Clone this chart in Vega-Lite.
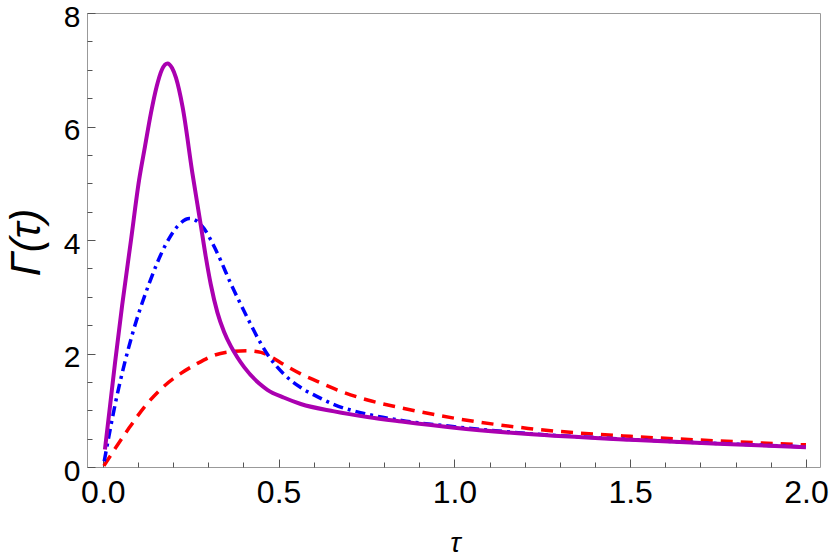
{
  "$schema": "https://vega.github.io/schema/vega-lite/v6.json",
  "width": 733,
  "height": 454,
  "autosize": {"type": "none"},
  "padding": {"left": 87, "top": 13, "right": 10, "bottom": 91},
  "background": "white",
  "config": {
    "view": {"stroke": "#999999", "strokeWidth": 1},
    "axis": {"grid": false, "domain": false, "labelFont": "Liberation Sans", "titleFont": "Liberation Sans", "labelColor": "black", "titleColor": "black", "tickColor": "#555555", "tickWidth": 1}
  },
  "datasets": {
    "curves": [
      {"s": "red", "x": 0.003, "y": 0.02},
      {"s": "red", "x": 0.075, "y": 0.69},
      {"s": "red", "x": 0.12, "y": 1.07},
      {"s": "red", "x": 0.17, "y": 1.40},
      {"s": "red", "x": 0.222, "y": 1.65},
      {"s": "red", "x": 0.265, "y": 1.81},
      {"s": "red", "x": 0.317, "y": 1.97},
      {"s": "red", "x": 0.374, "y": 2.04},
      {"s": "red", "x": 0.41, "y": 2.05},
      {"s": "red", "x": 0.45, "y": 2.02},
      {"s": "red", "x": 0.47, "y": 1.97},
      {"s": "red", "x": 0.516, "y": 1.80},
      {"s": "red", "x": 0.563, "y": 1.64},
      {"s": "red", "x": 0.61, "y": 1.51},
      {"s": "red", "x": 0.658, "y": 1.38},
      {"s": "red", "x": 0.753, "y": 1.18},
      {"s": "red", "x": 0.85, "y": 1.04},
      {"s": "red", "x": 1.0, "y": 0.86},
      {"s": "red", "x": 1.21, "y": 0.68},
      {"s": "red", "x": 1.5, "y": 0.54},
      {"s": "red", "x": 1.75, "y": 0.46},
      {"s": "red", "x": 2.0, "y": 0.39},
      {"s": "blue", "x": 0.004, "y": 0.10},
      {"s": "blue", "x": 0.037, "y": 1.16},
      {"s": "blue", "x": 0.084, "y": 2.34},
      {"s": "blue", "x": 0.131, "y": 3.22},
      {"s": "blue", "x": 0.179, "y": 3.92},
      {"s": "blue", "x": 0.215, "y": 4.26},
      {"s": "blue", "x": 0.246, "y": 4.38},
      {"s": "blue", "x": 0.268, "y": 4.33},
      {"s": "blue", "x": 0.288, "y": 4.20},
      {"s": "blue", "x": 0.317, "y": 3.88},
      {"s": "blue", "x": 0.336, "y": 3.63},
      {"s": "blue", "x": 0.364, "y": 3.23},
      {"s": "blue", "x": 0.388, "y": 2.92},
      {"s": "blue", "x": 0.412, "y": 2.62},
      {"s": "blue", "x": 0.45, "y": 2.17},
      {"s": "blue", "x": 0.47, "y": 1.97},
      {"s": "blue", "x": 0.516, "y": 1.63},
      {"s": "blue", "x": 0.563, "y": 1.40},
      {"s": "blue", "x": 0.61, "y": 1.24},
      {"s": "blue", "x": 0.658, "y": 1.10},
      {"s": "blue", "x": 0.753, "y": 0.93},
      {"s": "blue", "x": 0.85, "y": 0.82},
      {"s": "blue", "x": 1.0, "y": 0.71},
      {"s": "blue", "x": 1.21, "y": 0.59},
      {"s": "blue", "x": 1.5, "y": 0.485},
      {"s": "blue", "x": 1.75, "y": 0.415},
      {"s": "blue", "x": 2.0, "y": 0.355},
      {"s": "purple", "x": 0.006, "y": 0.31},
      {"s": "purple", "x": 0.02, "y": 1.05},
      {"s": "purple", "x": 0.035, "y": 1.85},
      {"s": "purple", "x": 0.055, "y": 2.85},
      {"s": "purple", "x": 0.08, "y": 3.99},
      {"s": "purple", "x": 0.103, "y": 5.05},
      {"s": "purple", "x": 0.12, "y": 5.65},
      {"s": "purple", "x": 0.137, "y": 6.24},
      {"s": "purple", "x": 0.153, "y": 6.70},
      {"s": "purple", "x": 0.168, "y": 7.00},
      {"s": "purple", "x": 0.184, "y": 7.11},
      {"s": "purple", "x": 0.197, "y": 7.03},
      {"s": "purple", "x": 0.208, "y": 6.86},
      {"s": "purple", "x": 0.227, "y": 6.34},
      {"s": "purple", "x": 0.255, "y": 5.17},
      {"s": "purple", "x": 0.279, "y": 4.25},
      {"s": "purple", "x": 0.293, "y": 3.70},
      {"s": "purple", "x": 0.307, "y": 3.22},
      {"s": "purple", "x": 0.326, "y": 2.72},
      {"s": "purple", "x": 0.345, "y": 2.38},
      {"s": "purple", "x": 0.364, "y": 2.13},
      {"s": "purple", "x": 0.383, "y": 1.93},
      {"s": "purple", "x": 0.402, "y": 1.76},
      {"s": "purple", "x": 0.445, "y": 1.47},
      {"s": "purple", "x": 0.468, "y": 1.36},
      {"s": "purple", "x": 0.516, "y": 1.22},
      {"s": "purple", "x": 0.563, "y": 1.11},
      {"s": "purple", "x": 0.658, "y": 0.98},
      {"s": "purple", "x": 0.753, "y": 0.88},
      {"s": "purple", "x": 0.85, "y": 0.80},
      {"s": "purple", "x": 1.0, "y": 0.69},
      {"s": "purple", "x": 1.21, "y": 0.58},
      {"s": "purple", "x": 1.5, "y": 0.48},
      {"s": "purple", "x": 1.75, "y": 0.41},
      {"s": "purple", "x": 2.0, "y": 0.35}
    ]
  },
  "data": {"name": "curves"},
  "layer": [
    {
      "transform": [{"filter": "datum.s === 'red'"}],
      "mark": {"type": "line", "strokeWidth": 3.5, "strokeDash": [12, 8], "clip": true, "interpolate": "monotone"},
      "encoding": {
        "x": {"field": "x", "type": "quantitative", "scale": {"domain": [-0.045, 2.04], "nice": false, "zero": false},
          "axis": {"orient": "bottom", "values": [0, 0.5, 1, 1.5, 2], "format": ".1f", "tickSize": -8, "labelFontSize": 32, "labelPadding": 18, "title": "τ", "titleFontSize": 28, "titleFontStyle": "italic", "titleFontWeight": "normal", "titleX": 368, "titleY": 76, "titleBaseline": "middle", "titleAlign": "center"}},
        "y": {"field": "y", "type": "quantitative", "scale": {"domain": [0, 8], "nice": false, "zero": true},
          "axis": {"orient": "left", "values": [0, 2, 4, 6, 8], "format": "d", "tickSize": -8, "labelFontSize": 30, "labelOffset": 4, "labelPadding": 15, "title": "Γ(τ)", "titleFontSize": 42, "titleFontStyle": "italic", "titleFontWeight": "normal", "titleAngle": -90, "titleX": -61, "titleY": 229, "titleBaseline": "middle", "titleAlign": "center"}},
        "color": {"field": "s", "type": "nominal", "scale": {"domain": ["red", "blue", "purple"], "range": ["#ff0000", "#0000ff", "#aa00b0"]}, "legend": null}
      }
    },
    {
      "transform": [{"filter": "datum.s === 'blue'"}],
      "mark": {"type": "line", "strokeWidth": 3.5, "strokeDash": [10, 5, 3, 5], "clip": true, "interpolate": "monotone"},
      "encoding": {
        "x": {"field": "x", "type": "quantitative",
          "axis": {"orient": "bottom", "values": [0.1, 0.2, 0.3, 0.4, 0.6, 0.7, 0.8, 0.9, 1.1, 1.2, 1.3, 1.4, 1.6, 1.7, 1.8, 1.9], "labels": false, "tickSize": -5, "title": null}},
        "y": {"field": "y", "type": "quantitative",
          "axis": {"orient": "left", "values": [0.5, 1, 1.5, 2.5, 3, 3.5, 4.5, 5, 5.5, 6.5, 7, 7.5], "labels": false, "tickSize": -5, "title": null}},
        "color": {"field": "s", "type": "nominal", "legend": null}
      }
    },
    {
      "transform": [{"filter": "datum.s === 'purple'"}],
      "mark": {"type": "line", "strokeWidth": 4, "clip": true, "interpolate": "monotone"},
      "encoding": {
        "x": {"field": "x", "type": "quantitative", "axis": null},
        "y": {"field": "y", "type": "quantitative", "axis": null},
        "color": {"field": "s", "type": "nominal", "legend": null}
      }
    }
  ],
  "resolve": {"axis": {"x": "independent", "y": "independent"}}
}
